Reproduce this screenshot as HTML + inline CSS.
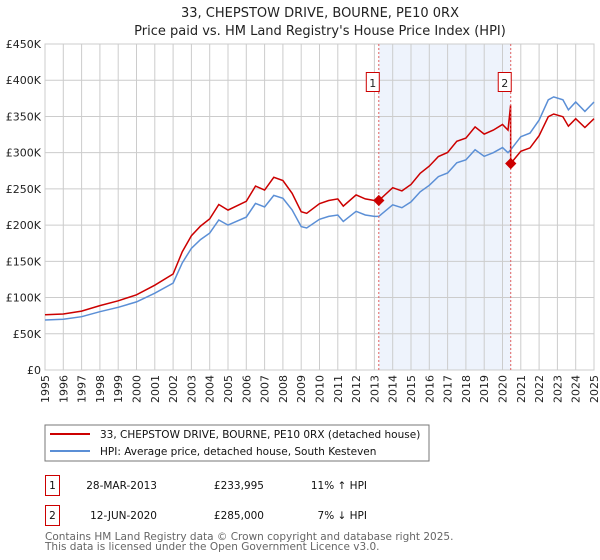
<!DOCTYPE html>
<html><head><meta charset="utf-8"><style>
body{margin:0;background:#fff;}
svg{display:block;font-family:"DejaVu Sans","Liberation Sans",sans-serif;}
</style></head><body>
<svg id="chart" width="600" height="560">
<text x="320" y="17" text-anchor="middle" font-size="13" fill="#222">33, CHEPSTOW DRIVE, BOURNE, PE10 0RX</text>
<text x="320" y="35" text-anchor="middle" font-size="13" fill="#222">Price paid vs. HM Land Registry's House Price Index (HPI)</text>
<g id="plot"></g>
<rect x="45" y="425" width="384" height="36" fill="none" stroke="#777" stroke-width="1"/>
<line x1="50" y1="434" x2="90" y2="434" stroke="#cc0000" stroke-width="2"/>
<text x="100" y="438" font-size="10.5" fill="#111">33, CHEPSTOW DRIVE, BOURNE, PE10 0RX (detached house)</text>
<line x1="50" y1="451" x2="90" y2="451" stroke="#5b8fd6" stroke-width="2"/>
<text x="100" y="455" font-size="10.5" fill="#111">HPI: Average price, detached house, South Kesteven</text>
<g font-size="10.5" fill="#111">
<rect x="45.5" y="475.5" width="14" height="20" fill="none" stroke="#cc0000"/>
<text x="52.5" y="489" text-anchor="middle">1</text>
<text x="157" y="489" text-anchor="end">28-MAR-2013</text>
<text x="264" y="489" text-anchor="end">£233,995</text>
<text x="367" y="489" text-anchor="end">11% ↑ HPI</text>
<rect x="45.5" y="505.5" width="14" height="20" fill="none" stroke="#cc0000"/>
<text x="52.5" y="519" text-anchor="middle">2</text>
<text x="157" y="519" text-anchor="end">12-JUN-2020</text>
<text x="264" y="519" text-anchor="end">£285,000</text>
<text x="367" y="519" text-anchor="end">7% ↓ HPI</text>
</g>
<text x="45" y="540" font-size="10.5" fill="#666">Contains HM Land Registry data © Crown copyright and database right 2025.</text>
<text x="45" y="550" font-size="10.5" fill="#666">This data is licensed under the Open Government Licence v3.0.</text>
</svg>
<script>
const hpiYears=[1995,1996,1997,1998,1999,2000,2001,2002,2002.5,2003,2003.5,2004,2004.5,2005,2006,2006.5,2007,2007.5,2008,2008.5,2009,2009.3,2010,2010.5,2011,2011.3,2012,2012.5,2013,2013.24,2014,2014.5,2015,2015.5,2016,2016.5,2017,2017.5,2018,2018.5,2019,2019.5,2020,2020.3,2020.45,2021,2021.5,2022,2022.5,2022.8,2023.3,2023.6,2024,2024.5,2025];
const hpiValues=[69,70,73.6,80.5,86.6,94,106,120,148,168,180,189,207,200,211,230,225,241,237,221,198,196,208,212,214,205,219,214,212,212,228,224,232,246,255,267,272,286,290,304,295,300,307,300,304,322,327,345,373,377,373,359,370,357,370];
const saleYears=[2013.24,2020.45];
const salePrices=[233.995,285];
const saleLabels=["1","2"];
const yTicks=[0,50,100,150,200,250,300,350,400,450];
const yTickLabels=["£0","£50K","£100K","£150K","£200K","£250K","£300K","£350K","£400K","£450K"];
const xTicks=[1995,1996,1997,1998,1999,2000,2001,2002,2003,2004,2005,2006,2007,2008,2009,2010,2011,2012,2013,2014,2015,2016,2017,2018,2019,2020,2021,2022,2023,2024,2025];

const X0=45,X1=594,Y0=370,Y1=44;
const xs=y=>X0+(y-1995)/30*(X1-X0);
const ys=v=>Y0-v/450*(Y0-Y1);
const NS='http://www.w3.org/2000/svg';
const g=document.getElementById('plot');
function mk(t,a){const e=document.createElementNS(NS,t);for(const k in a)e.setAttribute(k,a[k]);g.appendChild(e);return e;}
function hpiAt(y){for(let i=1;i<hpiYears.length;i++){if(y<=hpiYears[i]){const t=(y-hpiYears[i-1])/(hpiYears[i]-hpiYears[i-1]);return hpiValues[i-1]+t*(hpiValues[i]-hpiValues[i-1]);}}return hpiValues[hpiValues.length-1];}

let e=mk('rect',{x:xs(saleYears[0]),y:Y1,width:xs(saleYears[1])-xs(saleYears[0]),height:Y0-Y1,fill:'#eef3fc'});


yTicks.forEach((v,i)=>{
 let l=mk('line',{x1:X0,x2:X1,y1:ys(v),y2:ys(v),stroke:'#cccccc','stroke-width':1});
 
 
 let t=mk('text',{x:X0-4,y:ys(v)+4,'text-anchor':'end','font-size':'11',fill:'#222'});
 t.textContent=yTickLabels[i];
 
 
});
xTicks.forEach(y=>{
 let l=mk('line',{x1:xs(y),x2:xs(y),y1:Y1,y2:Y0,stroke:'#cccccc','stroke-width':1});
 
 
 const tx=xs(y)+4, ty=Y0+5;
 let t=mk('text',{x:tx,y:ty,'text-anchor':'end','font-size':'11',fill:'#222',transform:`rotate(-90 ${tx} ${ty})`});
 t.textContent=y;
 
 
});
e=mk('rect',{x:X0,y:Y1,width:X1-X0,height:Y0-Y1,fill:'none',stroke:'#cccccc'});



let d=hpiYears.map((y,i)=>(i?'L':'M')+xs(y).toFixed(1)+','+ys(hpiValues[i]).toFixed(1)).join('');
e=mk('path',{d:d,fill:'none',stroke:'#5b8fd6','stroke-width':1.5});



const r1=salePrices[0]/hpiAt(saleYears[0]), r2=salePrices[1]/hpiAt(saleYears[1]);
let pts=[];
hpiYears.forEach((y,i)=>{ if(y<saleYears[1]) pts.push([y,hpiValues[i]*r1]); });
pts.push([saleYears[1]-0.01,hpiAt(saleYears[1])*r1+30]);
pts.push([saleYears[1],salePrices[1]]);
hpiYears.forEach((y,i)=>{ if(y>saleYears[1]) pts.push([y,hpiValues[i]*r2]); });
d=pts.map((p,i)=>(i?'L':'M')+xs(p[0]).toFixed(1)+','+ys(p[1]).toFixed(1)).join('');
e=mk('path',{d:d,fill:'none',stroke:'#cc0000','stroke-width':1.5});



saleYears.forEach((y,i)=>{
 let l=mk('line',{x1:xs(y),x2:xs(y),y1:Y1,y2:Y0,stroke:'#e06060','stroke-width':1,'stroke-dasharray':'2,2'});
 
 
 let p=mk('rect',{x:xs(y)-4,y:ys(salePrices[i])-4,width:8,height:8,fill:'#cc0000',transform:`rotate(45 ${xs(y)} ${ys(salePrices[i])})`});
 
 
 let b=mk('rect',{x:xs(y)-12.5,y:72.5,width:13,height:19,fill:'#fff',stroke:'#cc0000'});
 
 
 let t=mk('text',{x:xs(y)-6,y:87,'text-anchor':'middle','font-size':'11',fill:'#222'});
 t.textContent=saleLabels[i];
 
 
});
</script>
</body></html>
